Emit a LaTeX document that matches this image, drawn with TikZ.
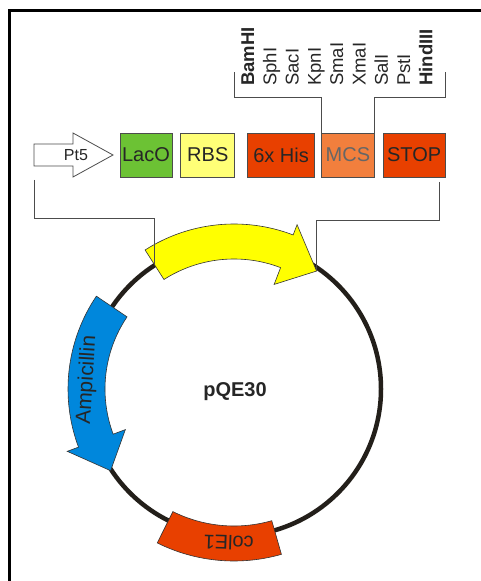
\documentclass[tikz,border=0pt]{standalone}
\usepackage{fontspec}
\setmainfont{Liberation Sans}
\usetikzlibrary{positioning,shapes}
\definecolor{lacgreen}{HTML}{6CC234}
\definecolor{rbsyellow}{HTML}{FFFF77}
\definecolor{hisred}{HTML}{E84000}
\definecolor{mcsorange}{HTML}{F27F3D}
\definecolor{ampblue}{HTML}{0087DC}
\definecolor{genyellow}{HTML}{FFFF00}
\definecolor{ringline}{HTML}{231F1A}

\begin{document}
\begin{tikzpicture}[x=1pt,y=1pt]
\tikzstyle{box}=[draw=black!70, line width=0.8pt, minimum height=44pt, inner sep=0pt, text=black!85, font=\fontsize{20}{24}\selectfont]
\tikzstyle{site}=[rotate=90, anchor=base west, inner sep=0pt, text=black!85, font=\fontsize{18.5}{22}\selectfont]
\tikzstyle{bracket}=[draw=black!70, line width=0.8pt]
\tikzstyle{feat}=[draw=black!80, line width=0.6pt]
\tikzstyle{lbl}=[inner sep=0pt, text=black!85, font=\fontsize{20}{24}\selectfont]

\useasboundingbox (0,0) rectangle (481,581);
\draw[line width=3pt] (9.5,0) -- (9.5,570) -- (481,570);

% promoter and cassette
\draw[draw=black!70, line width=0.8pt, fill=white]
  (34,415) -- (73,415) -- (73,404) -- (113,426) -- (73,448) -- (73,437) -- (34,437) -- cycle;
\node[lbl, font=\fontsize{16}{19}\selectfont] (pt5) at (76,426) {Pt5};

\node[box, fill=lacgreen, minimum width=52pt] (lac) at (146,426) {LacO};
\node[box, fill=rbsyellow, minimum width=54pt] (rbs) [right=8pt of lac] {RBS};
\node[box, fill=hisred, minimum width=67pt] (his) [right=12pt of rbs] {6x His};
\node[box, fill=mcsorange, minimum width=53pt, text=black!60] (mcs) [right=6pt of his] {MCS};
\node[box, fill=hisred, minimum width=62pt] (stop) [right=8pt of mcs] {STOP};

% restriction sites
\foreach \name [count=\i from 0] in {\textbf{BamHI},SphI,SacI,KpnI,SmaI,XmaI,SalI,PstI,\textbf{HindIII}}
  \node[site] (site\i) at (254+22.3*\i,495) {\name};

\draw[bracket] (mcs.north west) |- (234,484) -- (234,509);
\draw[bracket] (mcs.north east) |- (445,484) -- (445,509);

% plasmid
\begin{scope}[shift={(234,192)}]
\draw[draw=ringline, line width=4.5pt] (0,0) circle[radius=147];
\draw[feat, fill=genyellow] (122.6:165) arc[start angle=122.6, end angle=69, radius=165]
  -- (69:176) -- (55:144) -- (69:112) -- (69:130)
  arc[start angle=69, end angle=122.6, radius=130] -- cycle;
\draw[feat, fill=ampblue] (146:166) arc[start angle=146, end angle=200.5, radius=166]
  -- (200.5:178) -- (213.5:148) -- (200.5:116) -- (200.5:129)
  arc[start angle=200.5, end angle=146, radius=129] -- cycle;
\draw[feat, fill=hisred] (243.5:172) arc[start angle=243.5, end angle=286, radius=172]
  -- (286:137) arc[start angle=286, end angle=243.5, radius=137] -- cycle;
\coordinate (ytail) at (122.6:147);
\coordinate (ytip) at (55:144);
\node[lbl, font=\bfseries\fontsize{20}{24}\selectfont] (pqe) at (1,-3) {pQE30};
\node[lbl, rotate=86.5, font=\fontsize{21}{25}\selectfont] (amp) at (176.5:147) {Ampicillin};
\node[lbl, rotate=178] (ori) at (268:154) {colE1};
\end{scope}

\coordinate (pfoot) at (34,401);
\coordinate (sfoot) at (439,399);
\draw[bracket] (pfoot) -- (34,363) -| (ytail);
\draw[bracket] (sfoot) -- (439,361) -| (ytip);
\end{tikzpicture}
\end{document}
